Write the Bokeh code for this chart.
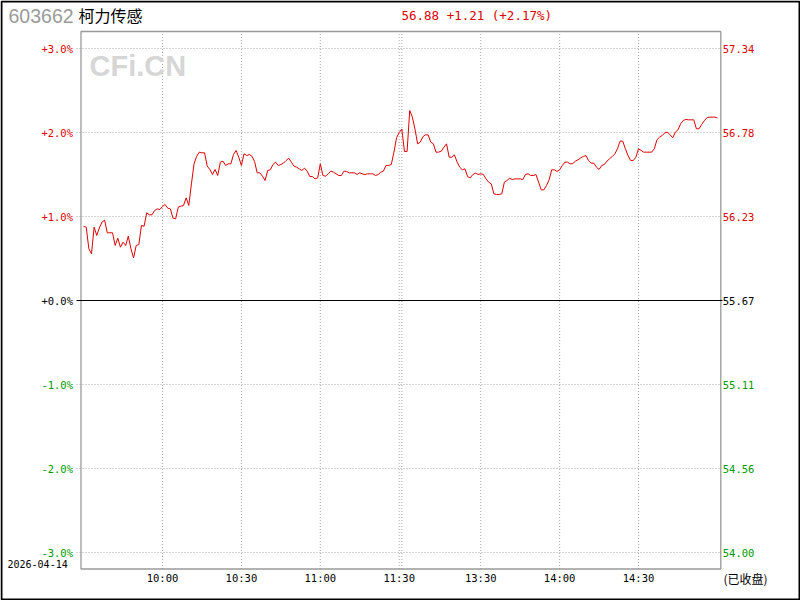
from bokeh.plotting import figure
from bokeh.models import ColumnDataSource, Range1d
from bokeh.core.properties import value
from bokeh.embed import file_html
from bokeh.resources import INLINE

# ---------------- data ----------------
code = "603662"
name = "柯力传感"
date_label = "2026-04-14"
status_label = "(已收盘)"
prev_close = 55.67
last_price = 56.88
change = 1.21
change_pct = 2.17

# percent change vs previous close, one value per trading minute (09:30 .. 15:00)
pct = [
    0.881, 0.873, 0.615, 0.556, 0.873, 0.774, 0.865, 0.933, 0.956, 0.806,
    0.806, 0.806, 0.655, 0.742, 0.635, 0.694, 0.655, 0.766, 0.615, 0.508,
    0.655, 0.667, 0.893, 0.885, 1.044, 1.020, 1.020, 1.071, 1.091, 1.083,
    1.119, 1.143, 1.099, 1.091, 0.980, 0.972, 1.111, 1.123, 1.131, 1.222,
    1.131, 1.389, 1.627, 1.718, 1.766, 1.758, 1.758, 1.599, 1.560, 1.500,
    1.560, 1.488, 1.647, 1.659, 1.607, 1.627, 1.627, 1.738, 1.786, 1.706,
    1.607, 1.746, 1.726, 1.738, 1.718, 1.655, 1.520, 1.520, 1.480, 1.429,
    1.548, 1.556, 1.619, 1.647, 1.607, 1.619, 1.635, 1.667, 1.694, 1.647,
    1.599, 1.587, 1.567, 1.548, 1.575, 1.540, 1.476, 1.476, 1.448, 1.460,
    1.627, 1.488, 1.480, 1.508, 1.540, 1.528, 1.508, 1.488, 1.488, 1.540,
    1.536, 1.520, 1.520, 1.520, 1.500, 1.520, 1.508, 1.500, 1.508, 1.508,
    1.508, 1.488, 1.500, 1.528, 1.540, 1.607, 1.607, 1.619, 1.766, 1.937,
    2.000, 2.040, 1.774, 1.774, 2.262, 2.183, 2.040, 1.865, 1.885, 1.950,
    1.972, 1.972, 1.885, 1.865, 1.766, 1.766, 1.778, 1.825, 1.865, 1.706,
    1.706, 1.734, 1.650, 1.587, 1.556, 1.567, 1.476, 1.460, 1.500, 1.516,
    1.500, 1.508, 1.500, 1.448, 1.409, 1.389, 1.270, 1.262, 1.262, 1.270,
    1.409, 1.429, 1.455, 1.440, 1.448, 1.448, 1.448, 1.440, 1.500, 1.508,
    1.488, 1.488, 1.500, 1.409, 1.317, 1.317, 1.369, 1.437, 1.556, 1.556,
    1.536, 1.556, 1.607, 1.647, 1.647, 1.627, 1.630, 1.659, 1.675, 1.698,
    1.714, 1.726, 1.667, 1.635, 1.635, 1.587, 1.560, 1.607, 1.619, 1.659,
    1.687, 1.714, 1.746, 1.806, 1.897, 1.897, 1.806, 1.726, 1.667, 1.667,
    1.706, 1.806, 1.786, 1.766, 1.766, 1.766, 1.766, 1.806, 1.913, 1.944,
    1.964, 1.996, 2.004, 1.972, 1.937, 2.004, 2.032, 2.103, 2.143, 2.155,
    2.151, 2.151, 2.151, 2.044, 2.044, 2.095, 2.140, 2.175, 2.183, 2.183,
    2.183, 2.174,
]
minute = list(range(len(pct)))

time_ticks = [30, 60, 90, 120, 151, 181, 211]
time_labels = ["10:00", "10:30", "11:00", "11:30", "13:30", "14:00", "14:30"]
grid_x = [30, 60, 90, 120, 121, 151, 181, 211]

pct_ticks = [3, 2, 1, 0, -1, -2, -3]
pct_labels = ["+3.0%", "+2.0%", "+1.0%", "+0.0%", "-1.0%", "-2.0%", "-3.0%"]
price_labels = ["57.34", "56.78", "56.23", "55.67", "55.11", "54.56", "54.00"]

RED = "#dd0000"
GREEN = "#009900"
GRID = "#a8a8a8"
tick_colors = [RED, RED, RED, "black", GREEN, GREEN, GREEN]

# ---------------- scales ----------------
PX_PER_MIN = 2.63
PX_PER_PCT = 84.0
X_ORIGIN = 83.1   # canvas x of minute 0
Y_ORIGIN = 300.0  # canvas y of 0 %
W, H = 800, 600


def dx(px):
    return (px - X_ORIGIN) / PX_PER_MIN


def dy(py):
    return (Y_ORIGIN - py) / PX_PER_PCT


p = figure(width=W, height=H, x_range=Range1d(dx(0), dx(W)), y_range=Range1d(dy(H), dy(0)),
           output_backend="svg", toolbar_location=None,
           min_border_left=0, min_border_right=0, min_border_top=0, min_border_bottom=0)
p.axis.visible = False
p.grid.visible = False
p.outline_line_color = None
p.background_fill_color = "white"
p.border_fill_color = "white"

# chart box limits
CL, CR = dx(80.5), dx(720.3)
CT, CB = dy(31), dy(568.5)

# outer black border
p.quad(left=[dx(1)], right=[dx(799)], top=[dy(1)], bottom=[dy(599)],
       fill_color=None, line_color="black", line_width=2)

# dotted grid
p.segment(x0=grid_x, x1=grid_x, y0=[CB] * len(grid_x), y1=[CT] * len(grid_x),
          line_color=GRID, line_dash="1 2", line_width=1)
hg = [t for t in pct_ticks if t != 0]
p.segment(x0=[dx(76)] * len(hg), x1=[CR] * len(hg), y0=hg, y1=hg,
          line_color=GRID, line_dash="1 2", line_width=1)

# chart frame
p.quad(left=[CL], right=[CR], top=[CT], bottom=[CB], fill_color=None,
       line_color="#999999", line_width=1.3)

# zero line
p.segment(x0=[dx(76)], x1=[dx(722)], y0=[0], y1=[0], line_color="black", line_width=1)

# price line
src = ColumnDataSource(dict(t=minute, v=pct))
p.line("t", "v", source=src, line_color=RED, line_width=1)

mono = value("DejaVu Sans Mono")

# left / right tick labels
lsrc = ColumnDataSource(dict(x=[CL] * 7, y=pct_ticks, text=pct_labels, c=tick_colors))
p.text(x="x", y="y", text="text", source=lsrc, text_color="c", text_align="right",
       text_baseline="middle", x_offset=-8, text_font=mono, text_font_size=value("10.5px"))
rsrc = ColumnDataSource(dict(x=[CR] * 7, y=pct_ticks, text=price_labels, c=tick_colors))
p.text(x="x", y="y", text="text", source=rsrc, text_color="c", text_align="left",
       text_baseline="middle", x_offset=2, text_font=mono, text_font_size=value("10.5px"))

# time labels
tsrc = ColumnDataSource(dict(x=time_ticks, y=[dy(577.5)] * len(time_ticks), text=time_labels))
p.text(x="x", y="y", text="text", source=tsrc, text_color="black", text_align="center",
       text_baseline="middle", text_font=mono, text_font_size=value("10.5px"))

# header and other texts
p.text(x=[dx(8)], y=[dy(15.5)], text=[code], text_align="left", text_baseline="middle",
       text_font=value("Liberation Sans"), text_font_size=value("19.5px"), text_color="#9a9a9a")
p.text(x=[dx(78)], y=[dy(14.5)], text=[name], text_align="left", text_baseline="middle",
       text_font=value("Noto Sans CJK SC"), text_font_size=value("16px"), text_color="black")
p.text(x=[dx(401)], y=[dy(14.5)], text=[f"{last_price:.2f} +{change:.2f} (+{change_pct:.2f}%)"],
       text_align="left", text_baseline="middle", text_font=mono,
       text_font_size=value("12.5px"), text_color=RED)
p.text(x=[dx(89)], y=[dy(65.5)], text=["CFi.CN"], text_align="left", text_baseline="middle",
       text_font=value("Liberation Sans"), text_font_style="bold",
       text_font_size=value("29px"), text_color="#d6d6d6")
p.text(x=[dx(7)], y=[dy(563)], text=[date_label], text_align="left", text_baseline="middle",
       text_font=mono, text_font_size=value("10px"), text_color="black")
p.text(x=[dx(723)], y=[dy(578)], text=[status_label], text_align="left", text_baseline="middle",
       text_font=value("Noto Sans CJK SC"), text_font_size=value("12px"), text_color="black")

open("out.html", "w").write(file_html(p, INLINE))
